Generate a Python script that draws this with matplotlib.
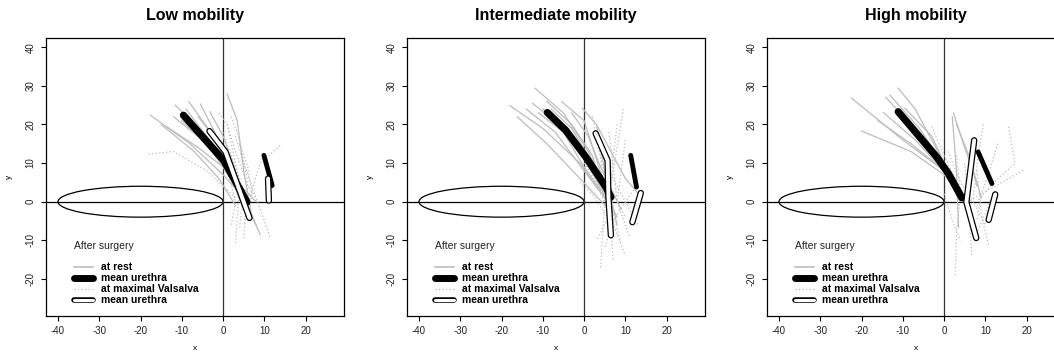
import matplotlib
matplotlib.use('AGG')
import matplotlib.pyplot as plt
from matplotlib.patches import Ellipse

plt.rcParams['font.family'] = ['Liberation Sans', 'DejaVu Sans']
plt.rcParams['axes.unicode_minus'] = False

titles = ['Low mobility', 'Intermediate mobility', 'High mobility']

# individual urethras at rest (solid grey), one (x, y) pair per patient
low_rest = [
    ([-17.6, -8, 0, 5], [22.4, 15, 7, 1]),
    ([-11.6, -5, 1, 6], [25.0, 18, 9, 0]),
    ([-8.3, -3, 2, 9], [25.9, 18, 8, -8.5]),
    ([-5.5, -2, 2, 7], [25.3, 18, 9, -4]),
    ([-3.2, 0, 3, 6], [23.3, 17, 8, -3]),
    ([1.0, 3.4, 5, 7], [27.9, 21.1, 8, -4]),
    ([-13.6, -6, 0, 4], [19.4, 14, 9, 2]),
    ([-12, -5, 1, 8], [22, 16, 8, 0]),
    ([-10, -4, 2, 5], [21, 15, 6, -2]),
    ([-15, -7, -1, 3], [20, 13, 6, -1]),
    ([-9, -4, 1, 6], [24, 17, 10, 1]),
    ([-6, -1, 3, 8], [22, 15, 7, -6]),
]
mid_rest = [
    ([-18, -10, -1, 5], [24.9, 19, 10, 1]),
    ([-16.2, -9, -1, 6], [22, 15, 6, -2]),
    ([-11.9, -5, 1, 7], [29.4, 23, 13, 0]),
    ([-12.5, -6, 0, 5], [25.5, 20, 11, 2]),
    ([-10, -4, 2, 8], [24, 19, 9, -4]),
    ([-5.4, 0, 3, 7], [25.9, 21, 11, -3]),
    ([-0.4, 3, 5, 8], [24.2, 20, 8, -6]),
    ([-8, -3, 2, 6], [24, 19, 10, 0]),
    ([-14, -7, 0, 5], [24, 18, 8, 1]),
    ([3, 6, 10, 14], [20, 14, 6, 1]),
    ([-7, -2, 3, 6], [22, 16, 6, -1]),
    ([-11, -5, 0, 4], [23, 18, 9, 3]),
    ([-3, 1, 4, 9], [23, 17, 9, -2]),
    ([-9, -3, 2, 7], [26, 20, 12, -5]),
]
high_rest = [
    ([-22.4, -10, 0, 4], [26.8, 16, 8, 2]),
    ([-20, -8, 0, 5], [18.3, 13, 7, 0]),
    ([-14.1, -8, -1, 4], [27, 20, 10, 1]),
    ([-13.1, -6, 1, 6], [27.6, 19, 8, 0]),
    ([-11.1, -7, 0, 3], [29.4, 24, 10, 2]),
    ([-14.7, -7, 0, 5], [23.1, 16, 8, 1]),
    ([-9.5, -3, 1, 6], [24.2, 17, 8, -1]),
    ([2.3, 5, 8, 9], [22.9, 14, 5, 1]),
    ([2, 3, 3.5], [22, 8, -6.6]),
    ([3, 6, 8], [20, 12, 4]),
    ([-16, -8, -1, 4], [21, 15, 9, 3]),
]

# individual urethras at maximal Valsalva (dotted grey)
low_valsalva = [
    ([-18, -12, -4, 3], [12.3, 13, 8, 1]),
    ([-1, 1, 4, 3], [23, 20, 5, -11]),
    ([2, 4, 6, 5], [22, 16, 5, -10]),
    ([13.8, 9, 7, 5], [14.5, 10, 3, -6]),
    ([3, 5, 8, 11.5], [17, 10, 1, -9.5]),
    ([0, 2, 5, 4], [18, 12, 3, -7]),
    ([4, 6, 7, 6], [15, 9, 2, -4]),
    ([1, 3, 6, 8], [20, 13, 4, 1]),
    ([-2, 1, 3, 2], [16, 9, 0, -6]),
]
mid_valsalva = [
    ([2, 4, 5, 4], [22, 12, 0, -17]),
    ([9.5, 8, 6, 7], [24, 14, 2, -15]),
    ([0, 3, 6, 10], [10, 5, -3, -14]),
    ([-1, 2, 5, 8], [5, 2, -3, -8]),
    ([6, 7, 8, 11], [18, 10, 0, -9]),
    ([4, 6, 9, 13], [14, 8, 2, -6]),
    ([12, 10, 7, 5], [3, 0, -5, -12]),
    ([8, 7, 6, 9], [20, 11, 1, -11]),
    ([3, 5, 6, 3], [16, 7, -4, -10]),
    ([10, 9, 8, 10], [16, 8, 0, -4]),
]
high_valsalva = [
    ([15.6, 17.2, 12, 8], [19.4, 9.9, 5, 0]),
    ([19.1, 14, 9, 6], [8.1, 5, 2, 0]),
    ([3, 4, 3, 2.7], [12, 2, -8, -19.6]),
    ([5, 6, 6.7], [10, -2, -14.2]),
    ([8, 9, 10.8], [8, -3, -11.6]),
    ([9.5, 8, 7], [20, 10, 0]),
    ([-3, 0, 4, 7], [19.5, 12, 3, -4]),
    ([1, 4, 7, 10], [13, 5, 0, -6]),
    ([13, 11, 9, 8], [15, 8, 2, -5]),
    ([12, 10, 8], [2, -3, -8]),
    ([0, 2, 4], [2, -5, -10]),
]

# mean urethra at rest (thick black)
mean_rest_x = [[-9.6, 0.15, 5.8], [-8.9, -4.45, 0.4, 5.3, 6.5], [-11.1, -1.8, 1.05, 4.3]]
mean_rest_y = [[22.4, 10.7, -0.1], [23.1, 18.5, 11.6, 3.8, 1.2], [23.3, 11.6, 7.3, 1.0]]
# mean urethra at maximal Valsalva (white, outlined)
mean_vals_x = [[-3.3, 0.6, 6.4], [2.8, 5.7, 5.9, 6.5], [7.3, 5.4, 7.8]]
mean_vals_y = [[18.3, 12.9, -4.2], [17.7, 10.7, 1.2, -8.7], [15.9, -0.1, -9.4]]
# small marks to the right
small_black_x = [[9.9, 11.9], [11.3, 12.7], [8.25, 11.6]]
small_black_y = [[12.0, 4.2], [12.0, 3.8], [12.9, 4.7]]
small_white_x = [[10.9, 11.1], [13.75, 11.7], [12.4, 10.8]]
small_white_y = [[6.0, 0.3], [2.25, -5.3], [1.9, -4.7]]

rest_lines = [low_rest, mid_rest, high_rest]
vals_lines = [low_valsalva, mid_valsalva, high_valsalva]

fig = plt.figure(figsize=(10.54, 3.54), dpi=100)
lefts = [46, 407, 767]
grey = '#bdbdbd'
rnd = dict(solid_capstyle='round', solid_joinstyle='round')

for i, left in enumerate(lefts):
    ax = fig.add_axes([left / 1054, 38 / 354, 298 / 1054, 278 / 354])
    ax.set_xlim(-42.9, 29.3)
    ax.set_ylim(-29.6, 42.4)

    ax.add_patch(Ellipse((-20, 0), 40, 8, fill=False, ec='black', lw=0.9))
    ax.axhline(0, color='black', lw=0.9)
    ax.axvline(0, color='#333333', lw=0.9)

    for xs, ys in rest_lines[i]:
        ax.plot(xs, ys, color=grey, lw=0.9)
    for xs, ys in vals_lines[i]:
        ax.plot(xs, ys, color=grey, lw=0.9, ls=(0, (1, 1.8)))

    ax.plot(mean_rest_x[i], mean_rest_y[i], color='black', lw=5.2, **rnd)
    ax.plot(small_black_x[i], small_black_y[i], color='black', lw=3.5, **rnd)
    for xs, ys in [(mean_vals_x[i], mean_vals_y[i]), (small_white_x[i], small_white_y[i])]:
        ax.plot(xs, ys, color='black', lw=4.6, **rnd)
        ax.plot(xs, ys, color='white', lw=2.8, **rnd)

    # legend block
    ax.text(-36, -11.4, 'After surgery', fontsize=7.5, va='center', color='#222222')
    lx = [-36, -31.5]
    ax.plot(lx, [-17, -17], color=grey, lw=1.2)
    ax.plot(lx, [-19.8, -19.8], color='black', lw=5, solid_capstyle='round')
    ax.plot(lx, [-22.7, -22.7], color=grey, lw=0.9, ls=(0, (1, 1.8)))
    ax.plot(lx, [-25.5, -25.5], color='black', lw=4, solid_capstyle='round')
    ax.plot(lx, [-25.5, -25.5], color='white', lw=2.2, solid_capstyle='round')
    for yy, lab in zip([-17, -19.8, -22.7, -25.5],
                       ['at rest', 'mean urethra', 'at maximal Valsalva', 'mean urethra']):
        ax.text(-29.5, yy, lab, fontsize=7.5, va='center', fontweight='bold')

    ax.set_xticks([-40, -30, -20, -10, 0, 10, 20])
    ax.set_yticks([-20, -10, 0, 10, 20, 30, 40])
    ax.tick_params(labelsize=7, length=3.5, width=0.8, pad=4, labelcolor='#222222')
    for lab in ax.get_yticklabels():
        lab.set_rotation(90)
        lab.set_va('center')
    for sp in ax.spines.values():
        sp.set_linewidth(0.9)
    ax.set_xlabel('x', fontsize=6, labelpad=6)
    ax.set_ylabel('y', fontsize=6, labelpad=9)
    ax.set_title(titles[i], fontsize=11.5, fontweight='bold', pad=13)

fig.savefig('out.png', dpi=100)
